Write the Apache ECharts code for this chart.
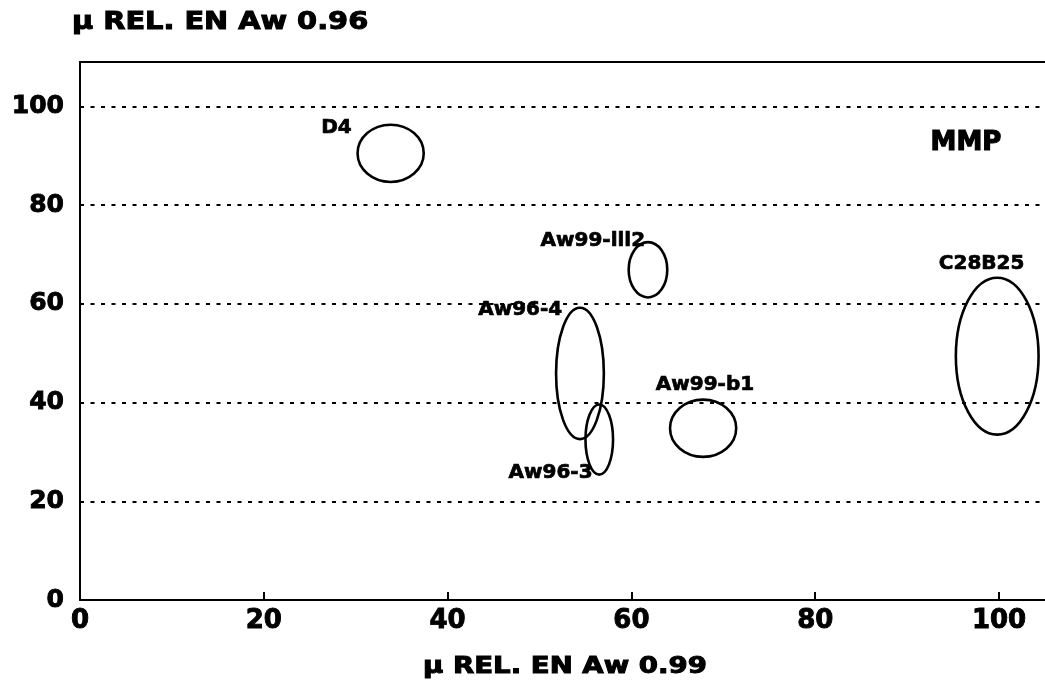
<!DOCTYPE html>
<html><head><meta charset="utf-8">
<script src="https://cdn.jsdelivr.net/npm/echarts@6/dist/echarts.min.js"></script>
<style>html,body{margin:0;padding:0;background:#fff}#c{width:1045px;height:682px}</style>
</head><body><div id="c"></div>
<script>
// Strains and their confidence ellipses (centre and half-spread in axis units)
const strains  = ['D4', 'Aw99-lll2', 'Aw96-4', 'Aw96-3', 'Aw99-b1', 'C28B25'];
const centerX  = [33.8, 61.8, 54.4, 56.5, 67.8, 99.8];
const centerY  = [90.5, 66.9, 45.9, 32.5, 34.8, 49.4];
const spreadX  = [3.6, 2.1, 2.6, 1.5, 3.6, 4.5];
const spreadY  = [5.8, 5.6, 13.3, 7.1, 5.8, 15.9];
// Where each strain name sits, in axis units
const labelX   = [27.9, 55.8, 47.9, 51.2, 68.0, 98.1];
const labelY   = [95.7, 72.8, 58.8, 25.8, 43.6, 68.2];
const xTicks   = [0, 20, 40, 60, 80, 100];
const yTicks   = [0, 20, 40, 60, 80, 100];
const xTitle   = 'μ REL. EN Aw 0.99';
const yTitle   = 'μ REL. EN Aw 0.96';
const panelTag = 'MMP';
const panelTagAt = [96.4, 92.6];

const FONT = '"DejaVu Sans", "Liberation Sans", sans-serif';
const INK = '#000';
const chart = echarts.init(document.getElementById('c'), null, {renderer: 'canvas'});

const rows = strains.map((s, i) => [centerX[i], centerY[i], spreadX[i], spreadY[i], labelX[i], labelY[i]]);

const heavy = {textBorderColor: INK, textBorderWidth: 0.9};

chart.setOption({
  animation: false,
  backgroundColor: '#fff',
  grid: {left: 80, right: 0, top: 62, bottom: 82, outerBoundsMode: 'none'},
  xAxis: [{
    type: 'value', min: 0, max: 105,
    axisLine: {show: true, onZero: false, lineStyle: {color: INK, width: 2}},
    axisTick: {show: true, inside: true, length: 8, customValues: xTicks, lineStyle: {color: INK, width: 2}},
    axisLabel: Object.assign({color: INK, fontFamily: FONT, fontWeight: 'bold', fontSize: 26, margin: 8,
      customValues: xTicks, formatter: v => String(v)}, heavy),
    splitLine: {show: false}
  }, {
    // frame line along the top of the plot
    type: 'value', position: 'top', min: 0, max: 105,
    axisLine: {show: true, onZero: false, lineStyle: {color: INK, width: 2}},
    axisTick: {show: false}, axisLabel: {show: false}, splitLine: {show: false}
  }],
  yAxis: {
    type: 'value', min: 0, max: 109, interval: 20,
    axisLine: {show: true, lineStyle: {color: INK, width: 2}},
    axisTick: {show: false},
    axisLabel: Object.assign({color: INK, fontFamily: FONT, fontWeight: 'bold', fontSize: 25, margin: 16,
      formatter: v => yTicks.includes(v) ? String(v) : ''}, heavy),
    splitLine: {show: true, lineStyle: {color: INK, width: 2, type: [4, 6.5]}}
  },
  series: [{
    type: 'custom',
    coordinateSystem: 'cartesian2d',
    data: rows,
    clip: false,
    renderItem(params, api) {
      const c = api.coord([api.value(0), api.value(1)]);
      const s = api.size([api.value(2), api.value(3)]);
      const l = api.coord([api.value(4), api.value(5)]);
      return {
        type: 'group',
        children: [
          {type: 'ellipse', shape: {cx: c[0], cy: c[1], rx: s[0], ry: s[1]},
            style: {fill: 'none', stroke: INK, lineWidth: 2.6}},
          {type: 'text', x: l[0], y: l[1],
            style: {text: strains[params.dataIndex], font: 'bold 20px ' + FONT, fill: INK,
              align: 'center', verticalAlign: 'middle', stroke: INK, lineWidth: 0.7}}
        ]
      };
    }
  }]
});

const tagPos = chart.convertToPixel({gridIndex: 0}, panelTagAt);
chart.setOption({
  graphic: [
    {type: 'text', x: 72, y: 23, scaleX: 1.2,
      style: {text: yTitle, font: 'bold 24px ' + FONT, fill: INK, verticalAlign: 'middle', stroke: INK, lineWidth: 1}},
    {type: 'text', x: 565, y: 667, scaleX: 1.2,
      style: {text: xTitle, font: 'bold 23px ' + FONT, fill: INK, align: 'center', verticalAlign: 'middle', stroke: INK, lineWidth: 1}},
    {type: 'text', x: tagPos[0], y: tagPos[1],
      style: {text: panelTag, font: 'bold 26px ' + FONT, fill: INK, align: 'center', verticalAlign: 'middle', stroke: INK, lineWidth: 1.2}}
  ]
});
</script>
</body></html>
